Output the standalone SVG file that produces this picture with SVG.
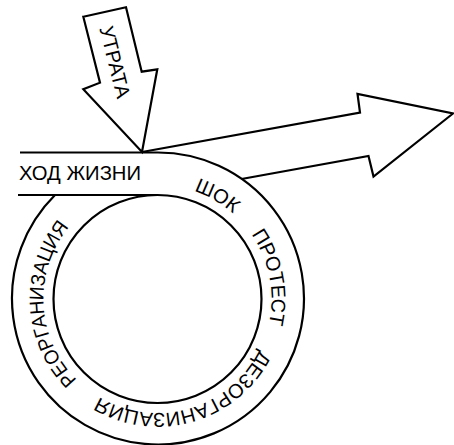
<svg xmlns="http://www.w3.org/2000/svg" xmlns:xlink="http://www.w3.org/1999/xlink" width="454" height="445" viewBox="0 0 454 445">
  <style>
    .ln { fill: none; stroke: #000; stroke-width: 2.2; stroke-linejoin: miter; }
    .sh { fill: #fff; stroke: #000; stroke-width: 2.2; stroke-linejoin: miter; }
    .t { font-family: "Liberation Sans", Arial, sans-serif; font-size: 20px; fill: #000; }
  </style>
  <defs>
    <path id="ring" d="M157.5,185 A114,114 0 1 1 157.5,413 A114,114 0 1 1 157.5,185"/>
  </defs>
  <rect width="454" height="445" fill="#fff"/>

  <g id="connectors">
    <polyline id="outcome-arrow" class="ln" points="142,152 360,112.5 357.5,94 453,113.5 373.5,176.5 368.5,156 241.5,179"/>
  </g>

  <g id="life-course">
    <path class="ln" d="M20,152.5 H157.5 A146,146 0 1 1 55,195"/>
    <path class="ln" d="M18,195 H157.5"/>
    <text class="t" x="19" y="179.5" textLength="122" lengthAdjust="spacingAndGlyphs">ХОД ЖИЗНИ</text>
  </g>

  <g id="inner">
    <circle class="ln" cx="157.5" cy="299" r="104"/>
  </g>

  <g id="loss">
    <polygon class="sh" points="83.3,16.7 126,7.3 141.7,71.7 157.3,69.3 142,152 83.3,89.3 100,82.7"/>
    <text class="t" transform="translate(115,62) rotate(76)" x="0" y="7" text-anchor="middle">УТРАТА</text>
  </g>

  <g id="phases">
    <text class="t"><textPath xlink:href="#ring" href="#ring" startOffset="59.7" text-anchor="middle">ШОК</textPath></text>
    <text class="t"><textPath xlink:href="#ring" href="#ring" startOffset="157.2" text-anchor="middle">ПРОТЕСТ</textPath></text>
    <text class="t"><textPath xlink:href="#ring" href="#ring" startOffset="325.3" text-anchor="middle">ДЕЗОРГАНИЗАЦИЯ</textPath></text>
    <text class="t"><textPath xlink:href="#ring" href="#ring" startOffset="530.7" text-anchor="middle" textLength="168" lengthAdjust="spacingAndGlyphs">РЕОРГАНИЗАЦИЯ</textPath></text>
  </g>
</svg>
